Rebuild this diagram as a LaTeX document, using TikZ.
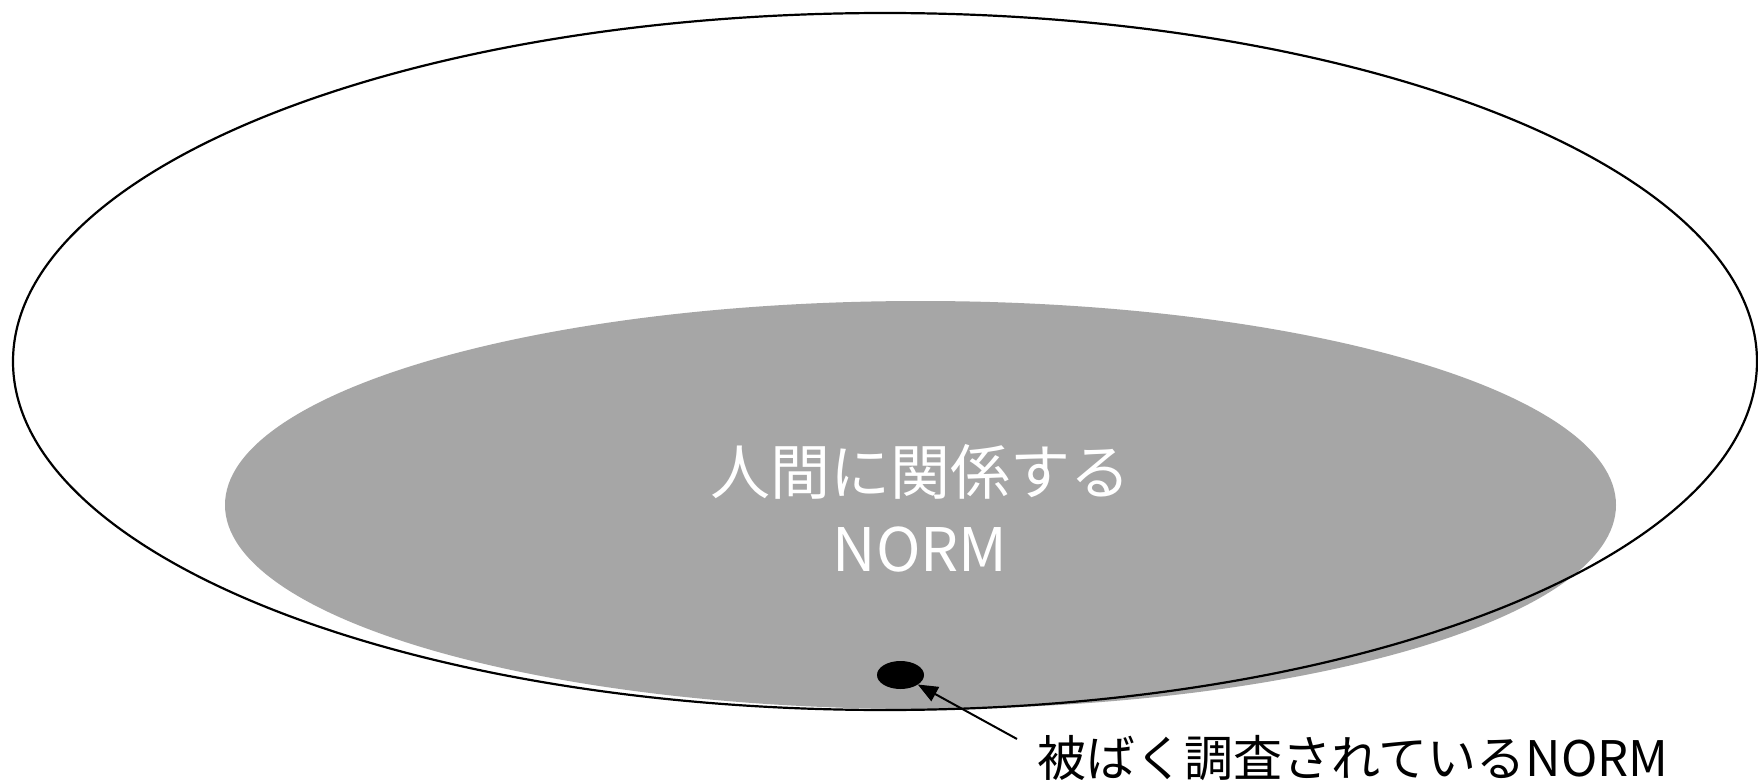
\documentclass[tikz,border=0pt]{standalone}
\usepackage{fontspec}
\setmainfont{Noto Sans CJK JP}
\usetikzlibrary{shapes.geometric,arrows.meta}
\definecolor{normgray}{HTML}{A6A6A6}
\tikzset{
  region/.style={ellipse, inner sep=0pt, outer sep=0pt},
  pointer/.style={line width=1pt, -{Triangle[length=10pt,width=8pt]}}
}
\begin{document}
\begin{tikzpicture}[x=0.5pt,y=-0.5pt]
\useasboundingbox[fill=white] (0,0) rectangle (1758,781);
% gray region
\node[region, fill=normgray, minimum width=695.5pt, minimum height=204pt] (human) at (920.5,505) {};
% outer boundary
\node[region, draw=black, line width=1.1pt, minimum width=872pt, minimum height=348.5pt] (all) at (885,361.5) {};
% inner text
\node[inner sep=0pt, align=center, text=white, font=\fontsize{30pt}{38.5pt}\selectfont] (humantext) at (920,508.5) {人間に関係する\\NORM};
% surveyed dot
\node[region, fill=black, minimum width=23.5pt, minimum height=14pt] (dot) at (900.5,675) {};
% label
\node[inner sep=0pt, anchor=base west, font=\fontsize{24.5pt}{30pt}\selectfont] (surveyed) at (1037,776) {被ばく調査されているNORM};
\coordinate (tail) at (1017,739);
\draw[pointer] (tail) -- (dot);
\end{tikzpicture}
\end{document}
